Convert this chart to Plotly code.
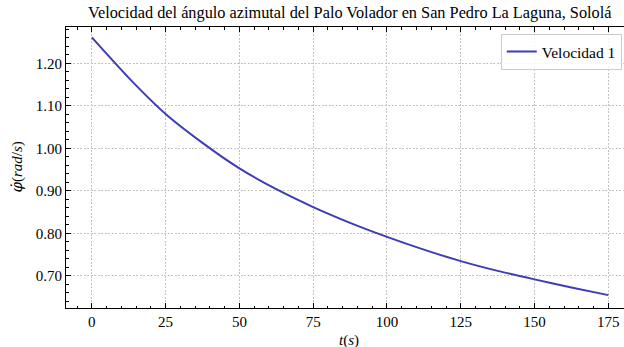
import plotly.graph_objects as go

# Data
t_s = [0, 12.5, 25, 37.5, 50, 62.5, 75, 87.5, 100, 112.5, 125, 137.5, 150, 162.5, 175]
vel_1 = [1.261, 1.166, 1.081, 1.013, 0.953, 0.904, 0.862, 0.825, 0.792, 0.762, 0.735, 0.712, 0.692, 0.673, 0.655]
x_ticks = [0, 25, 50, 75, 100, 125, 150, 175]
y_ticks = [0.70, 0.80, 0.90, 1.00, 1.10, 1.20]

FONT = "Liberation Serif, DejaVu Serif, serif"
L, R, T, B = 66, 0, 27, 39
W, H = 624, 347

fig = go.Figure()
fig.add_trace(go.Scatter(
    x=t_s, y=vel_1, mode="lines", name="Velocidad 1",
    line=dict(color="#3d3db5", width=2, shape="spline", smoothing=0.6),
))

axis_common = dict(
    showline=True, linecolor="black", linewidth=1,
    ticks="inside", ticklen=5, tickwidth=1, tickcolor="black",
    showgrid=True, gridcolor="#c4c4c4", gridwidth=0.6, griddash="2px,1.5px",
    zeroline=False,
    tickfont=dict(family=FONT, size=15, color="black"),
)

fig.update_xaxes(
    **axis_common,
    range=[-8.75, 180.3],
    tickvals=x_ticks,
    mirror="allticks",
    minor=dict(ticks="inside", ticklen=2.5, tickwidth=1, tickcolor="black", dtick=5, tick0=0, showgrid=False),
)
fig.update_yaxes(
    **axis_common,
    range=[0.6247, 1.2855],
    tickvals=y_ticks,
    tickformat=".2f",
    mirror=False,
    minor=dict(ticks="inside", ticklen=2.5, tickwidth=1, tickcolor="black", dtick=0.02, tick0=0.6, showgrid=False),
)

fig.update_layout(
    width=W, height=H,
    margin=dict(l=L, r=R, t=T, b=B, pad=0),
    paper_bgcolor="white", plot_bgcolor="white",
    font=dict(family=FONT, size=15, color="black"),
    showlegend=True,
    legend=dict(
        x=0.996, y=0.975, xanchor="right", yanchor="top",
        bgcolor="rgba(255,255,255,0.85)", bordercolor="#cccccc", borderwidth=1,
        font=dict(family=FONT, size=15.5, color="black"),
    ),
    annotations=[
        dict(text="Velocidad del ángulo azimutal del Palo Volador en San Pedro La Laguna, Sololá",
             xref="paper", yref="paper", x=0.508, y=1.0, yshift=3,
             xanchor="center", yanchor="bottom", showarrow=False,
             font=dict(family=FONT, size=16.3, color="black")),
        dict(text="<i>t</i>(<i>s</i>)",
             xref="paper", yref="paper", x=0.508, y=0, yshift=-22,
             xanchor="center", yanchor="top", showarrow=False,
             font=dict(family=FONT, size=15, color="black")),
        dict(text="<span style='font-family:DejaVu Serif'><i>φ̇</i></span>(<i>rad</i>/<i>s</i>)",
             xref="paper", yref="paper", x=0, xshift=-50, y=0.5,
             xanchor="center", yanchor="middle", textangle=-90, showarrow=False,
             font=dict(family=FONT, size=15, color="black")),
    ],
)

fig.write_html("out.html", config={"displayModeBar": False},
               post_script="document.body.style.margin='0';")
